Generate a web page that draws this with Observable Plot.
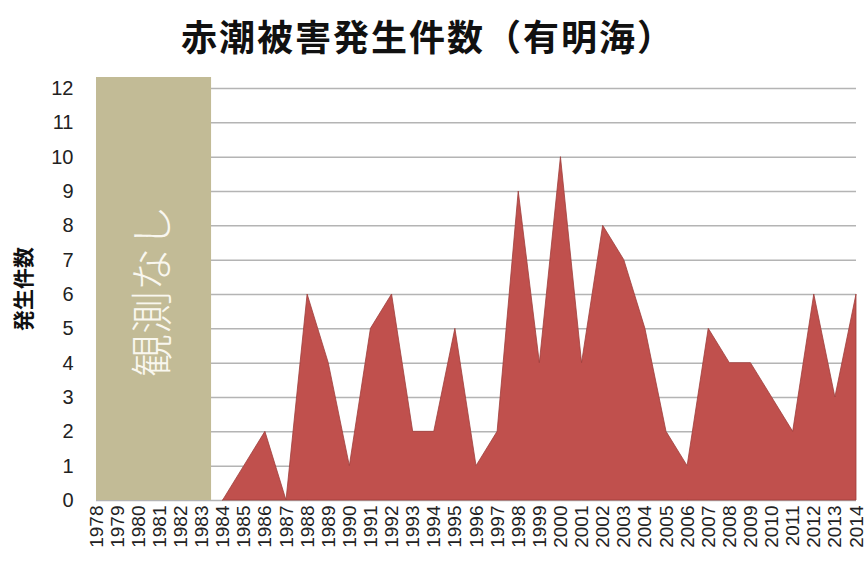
<!DOCTYPE html>
<html>
<head>
<meta charset="utf-8">
<script src="https://cdn.jsdelivr.net/npm/d3@7"></script>
<script src="https://cdn.jsdelivr.net/npm/@observablehq/plot@0.6"></script>
<style>
  html, body { margin: 0; padding: 0; background: #fff; }
  #wrap { width: 866px; height: 567px; position: relative; overflow: hidden; }
  #title { height: 65px; line-height: 70px; text-align: center; font-family: "Noto Sans CJK JP", sans-serif; font-weight: bold; font-size: 36px; letter-spacing: 2px; color: #111; padding-right: 10px; }
</style>
</head>
<body>
<div id="wrap">
  <div id="title">赤潮被害発生件数（有明海）</div>
  <div id="chart"></div>
</div>
<script>
const years = [1978,1979,1980,1981,1982,1983,1984,1985,1986,1987,1988,1989,1990,1991,1992,1993,1994,1995,1996,1997,1998,1999,2000,2001,2002,2003,2004,2005,2006,2007,2008,2009,2010,2011,2012,2013,2014];
const counts = [null,null,null,null,null,null,0,1,2,0,6,4,1,5,6,2,2,5,1,2,9,4,10,4,8,7,5,2,1,5,4,4,3,2,6,3,6];
const yTicks = [0,1,2,3,4,5,6,7,8,9,10,11,12];
const noObsLabel = "観測なし";
const noObsStart = 1978;
const noObsEnd = 1983;
const yLabel = "発生件数";

const data = years.map((y, i) => ({year: y, count: counts[i]}));
const observed = data.filter(d => d.count != null);
const band = [{x1: noObsStart, x2: noObsEnd + 0.45, y1: 0, y2: 12.32, label: noObsLabel}];

const chart = Plot.plot({
  width: 866,
  height: 502,
  marginLeft: 96,
  marginRight: 10,
  marginTop: 12,
  marginBottom: 67,
  style: {fontFamily: "'Liberation Sans', Arial, sans-serif", background: "#fff", overflow: "visible"},
  x: {type: "linear", domain: [1978, 2014]},
  y: {domain: [0, 12.32]},
  marks: [
    Plot.ruleY(yTicks, {stroke: "#b4b4b4", strokeWidth: 1.5}),
    Plot.areaY(observed, {x: "year", y: "count", fill: "#c0504d", stroke: "#9e3e3b", strokeWidth: 0.8, curve: "linear"}),
    Plot.rect(band, {x1: "x1", x2: "x2", y1: "y1", y2: "y2", fill: "#c2bb96"}),
    Plot.text(band, {x: d => (d.x1 + d.x2) / 2, y: 6.1, text: "label", rotate: -90, fill: "#f9f7ef", fontSize: 43, fontFamily: "'Noto Sans CJK JP', sans-serif", fontWeight: 300}),
    Plot.axisY({ticks: yTicks, tickSize: 0, tickPadding: 23, fontSize: 20, fill: "#222", label: null}),
    Plot.axisX({ticks: years, tickFormat: d => String(d), tickSize: 0, tickPadding: 5, tickRotate: -90, fontSize: 19, fill: "#222", label: null, style: {letterSpacing: "1.5px"}}),
    Plot.text([yLabel], {frameAnchor: "left", dx: -72, rotate: -90, textAnchor: "middle", fontSize: 21, fontWeight: "bold", fill: "#111", fontFamily: "'Noto Sans CJK JP', sans-serif"})
  ]
});
document.getElementById("chart").appendChild(chart);
</script>
</body>
</html>
